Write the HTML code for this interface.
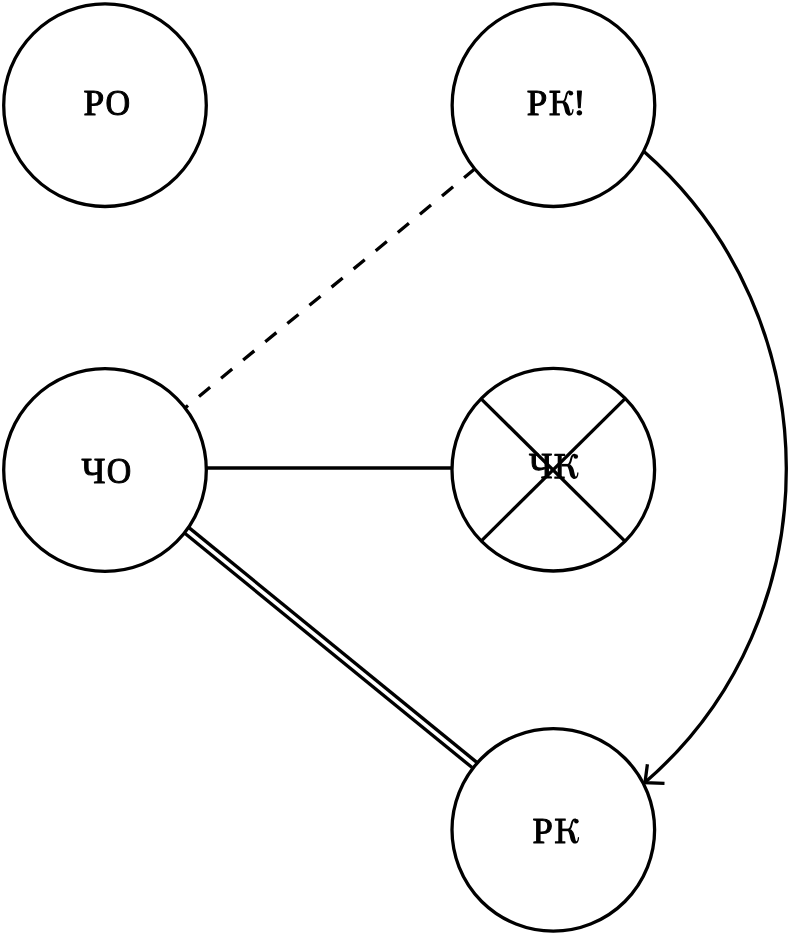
<!DOCTYPE html>
<html>
<head>
<meta charset="utf-8">
<title>Diagram</title>
<style>
  html, body { margin: 0; padding: 0; background: #ffffff; }
  body { width: 790px; height: 936px; overflow: hidden; }
  svg { display: block; }
  text { font-family: "Liberation Serif", serif; font-weight: normal; font-size: 35.5px; fill: #000000; stroke: #000000; stroke-width: 1; stroke-linejoin: round; }
</style>
</head>
<body>
<svg width="790" height="936" viewBox="0 0 790 936">
  <defs>
    <filter id="soft" x="0" y="0" width="790" height="936" filterUnits="userSpaceOnUse" color-interpolation-filters="sRGB">
      <feGaussianBlur stdDeviation="0.5"/>
    </filter>
    <g id="K" fill="#000000" stroke="none">
      <path d="M0.3 -25 H10.4 Q10.8 -25 10.8 -24.5 V-23.2 Q10.8 -22.7 10.4 -22.7 H7.3 V-2.3 H10 Q10.4 -2.3 10.4 -1.8 V-0.5 Q10.4 0 10 0 H0.3 Q-0.1 0 -0.1 -0.5 V-1.8 Q-0.1 -2.3 0.3 -2.3 H3.3 V-22.7 H0.3 Q-0.1 -22.7 -0.1 -23.2 V-24.5 Q-0.1 -25 0.3 -25 Z"/>
      <rect x="7" y="-14.9" width="7.6" height="2.6"/>
      <path d="M13.2 -13.5 C15.6 -14.1 16.2 -17 16.8 -20 C17.4 -23 18.4 -24.2 20.3 -24.1" fill="none" stroke="#000000" stroke-width="2" stroke-linecap="round"/>
      <circle cx="21.4" cy="-22.3" r="2.25"/>
      <path d="M13.0 -12.4 C14 -10.8 14.4 -9 14.7 -8 C15 -6.5 15.2 -5.5 15.5 -4.3 C15.9 -3 16.3 -2.2 16.9 -1.5 C17.6 -0.6 18.4 0 19.5 0.08 C21 0.15 22.3 -0.3 23 -1.5 C23.6 -2.6 24 -4 24.1 -5.8 C24.1 -6.7 22.9 -6.8 22.8 -5.8 C22.7 -4.4 22.4 -3.2 21.9 -2.5 C21.4 -1.9 20.9 -2.2 20.6 -3.6 C20.3 -5 20.1 -6 19.8 -7.1 C19.5 -8.5 19.2 -9.6 18.7 -10.7 C18.1 -12 17.2 -13.2 15.8 -14.2 Z"/>
    </g>
  </defs>
  <rect x="0" y="0" width="790" height="936" fill="#ffffff"/>
  <g filter="url(#soft)">
  <rect x="0" y="0" width="790" height="936" fill="#ffffff"/>
  <g fill="none" stroke="#000000" stroke-width="3.3">
    <!-- dashed edge -->
    <line x1="475.2" y1="168.6" x2="184.6" y2="408.35" stroke-dasharray="14.4 14.24"/>
    <!-- solid edge -->
    <line x1="206" y1="468" x2="452" y2="468"/>
    <!-- double edge -->
    <line x1="185.8" y1="529.6" x2="474.3" y2="764.85" stroke-width="10.3"/>
    <line x1="185.8" y1="529.6" x2="474.3" y2="764.85" stroke="#ffffff" stroke-width="3.7"/>
    <!-- curved arrow -->
    <path d="M 644.2 151.8 C 832.4 317.3 834.7 618.5 644.9 782.5"/>
    <path d="M 647.4 764.3 L 645.0 782.6 L 664.5 783.3" stroke-linejoin="miter"/>
    <!-- cross -->
    <line x1="480.9" y1="398.6" x2="625.1" y2="541.3"/>
    <line x1="625.1" y1="398.6" x2="480.9" y2="541.3"/>
  </g>
  <g fill="#ffffff" stroke="#000000" stroke-width="3.3">
    <circle cx="105" cy="105.2" r="101.3"/>
    <circle cx="553.45" cy="105.2" r="101.3"/>
    <circle cx="105" cy="470" r="101.3"/>
    <circle cx="553.3" cy="469.7" r="101.3" fill="none"/>
    <circle cx="553.3" cy="829.85" r="101.3"/>
  </g>
  <g>
    <text transform="translate(83.6,114.8) scale(1.05,1)">Р</text>
    <text transform="translate(105.45,114.8) scale(0.96,1)">О</text>
    <text transform="translate(526.7,115.1) scale(1.04,1)">Р</text>
    <use href="#K" x="549.5" y="115.6"/>
    <text transform="translate(572.9,115.1) scale(1.08,1)">!</text>
    <text transform="translate(81.4,483) scale(1.04,1)">Ч</text>
    <text transform="translate(106.7,483) scale(0.955,1)">О</text>
    <text transform="translate(528.9,478.3) scale(1.02,1)">Ч</text>
    <use href="#K" x="554.4" y="478.8"/>
    <text transform="translate(532.5,842.9) scale(1.03,1)">Р</text>
    <use href="#K" x="555.0" y="843.5"/>
  </g>
  </g>
</svg>
</body>
</html>
